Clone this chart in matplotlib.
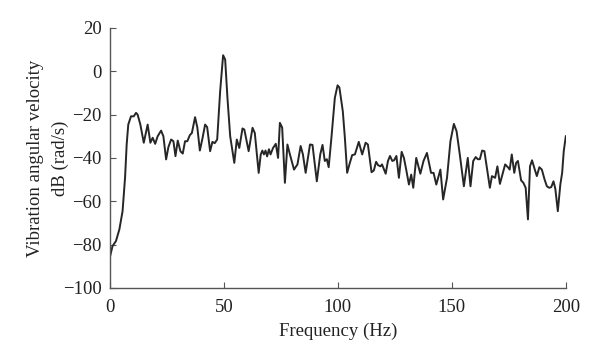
import matplotlib
matplotlib.use("Agg")
import matplotlib.pyplot as plt

# frequency (Hz) and vibration angular velocity level (dB rad/s)
freq = [0, 1.2, 2.7, 4.2, 5.6, 6.7, 7.4, 8.1, 9.3, 10.5, 11.5, 12.2, 13.4, 14.9,
        16.6, 17.8, 18.8, 19.9, 21, 22.5, 23.5, 24.7, 25.7, 26.9, 27.9, 28.8,
        29.8, 31, 32, 33, 34, 35.1, 36, 37.4, 38.4, 39.5, 40.7, 41.8, 42.7, 44,
        45, 46, 47.1, 48.4, 49.7, 50.6, 51.6, 52.8, 54.6, 55.7, 56.8, 58.2, 59,
        60.9, 62.6, 63.6, 65.3, 66.2, 66.9, 67.6, 68.3, 69, 69.8, 70.5, 71.6,
        72.8, 73.8, 74.6, 75.6, 76.8, 77.9, 79, 80.8, 82.3, 83.7, 84.7, 85.9,
        87.8, 88.9, 90.8, 92.3, 93.3, 94.3, 95.2, 96, 97.2, 98.7, 99.9, 100.7,
        102.2, 103.1, 104.1, 105.1, 106.3, 107.5, 109.2, 110.7, 112.2, 113.2,
        114.8, 115.8, 116.8, 117.7, 118.7, 119.4, 120.1, 121, 122, 122.9, 123.9,
        124.7, 125.7, 126.8, 128, 129, 130, 131.2, 132.2, 133.1, 134.4, 136.2,
        137.6, 139.1, 140.9, 142, 143.2, 145, 146.2, 147.9, 149.4, 150.9, 152.1,
        153.5, 155.3, 157, 158.2, 159.4, 160.5, 161.4, 162.3, 163.3, 164.3,
        165.5, 166.7, 167.6, 169, 170, 171.1, 172.2, 173.4, 174.6, 175.4, 176.3,
        177.4, 178.2, 179, 180.4, 181.4, 182.4, 183.4, 184.3, 185.2, 186.4,
        187.3, 188.4, 189.5, 190.7, 191.7, 192.7, 193.6, 194.6, 195.4, 196.5,
        197.6, 198.4, 199.1, 200]
level = [-86, -80.7, -78.4, -73, -64.6, -49, -33.8, -24.6, -20.8, -20.8, -19.2,
         -20, -24.6, -33, -24.6, -33, -30.7, -33.5, -30, -27.4, -30, -40.7, -35,
         -31.5, -32.3, -39.2, -32, -37, -38, -32.3, -32.3, -29.5, -28.5, -21.2,
         -26, -36.6, -30.7, -24.6, -25.8, -36.9, -32.6, -33.2, -31.5, -9.2, 7.4,
         5.4, -12.3, -30, -42.3, -31.5, -35.4, -26.4, -26.9, -36.9, -26.1, -28.5,
         -46.9, -38.4, -36.6, -38.4, -36.6, -39.3, -36, -38.4, -35.4, -33.5, -40,
         -23.8, -26, -51.5, -33.8, -38.4, -45.4, -43, -34.5, -38.4, -46.9, -33.8,
         -34, -50.8, -38.4, -34, -41.4, -40.6, -44.3, -30.7, -12.3, -6.5, -7.5,
         -18.5, -30.7, -46.9, -43, -38.7, -38.4, -32.6, -38.4, -33, -33.8, -46.6,
         -45.8, -41.8, -43.4, -43.9, -43, -44.9, -47.3, -41.4, -39.1, -41.4,
         -41.1, -39.1, -49.2, -37.2, -40, -45.4, -52.3, -47.7, -53.8, -40, -47.3,
         -41.4, -37.7, -46.9, -46.9, -52.3, -45.4, -59.2, -49.2, -32.3, -24.3,
         -27.7, -38.4, -53.1, -40, -53.1, -41.4, -39.6, -40.6, -40.6, -36.6,
         -36.9, -45.4, -53.8, -48.4, -49.2, -43.9, -52, -47.7, -43, -44.3, -45.4,
         -38.4, -46.9, -42.3, -41.4, -50.4, -51.5, -53.8, -68.4, -43.9, -41.1,
         -45.4, -48.4, -44.3, -45.4, -50, -53.1, -53.8, -53.5, -50.8, -54.2,
         -64.6, -52.3, -46.9, -36.9, -30]

xticks = [0, 50, 100, 150, 200]
yticks = [20, 0, -20, -40, -60, -80, -100]

plt.rcParams['font.family'] = ['Liberation Serif', 'DejaVu Serif']
plt.rcParams['font.size'] = 13.5

fig = plt.figure(figsize=(6, 3.63), dpi=100)
ax = fig.add_axes([0.183, 0.207, 0.76, 0.716])

ax.plot(freq, level, color='#262626', lw=1.4)

ax.set_xlim(0, 200)
ax.set_ylim(-100, 20)
ax.set_xticks(xticks)
ax.set_yticks(yticks)

for side in ['top', 'right']:
    ax.spines[side].set_visible(False)
for side in ['left', 'bottom']:
    ax.spines[side].set_color('#555555')
    ax.spines[side].set_linewidth(1.0)
ax.tick_params(direction='in', length=4, color='#555555', labelcolor='#222222')
ax.tick_params(axis='x', pad=8)
ax.tick_params(axis='y', pad=6)

ax.set_xlabel('Frequency (Hz)', color='#222222', labelpad=5)
ax.set_ylabel('Vibration angular velocity\ndB (rad/s)', color='#222222',
              linespacing=1.55)
ax.yaxis.set_label_coords(-0.09, 0.5)

fig.savefig('out.png', dpi=100)
